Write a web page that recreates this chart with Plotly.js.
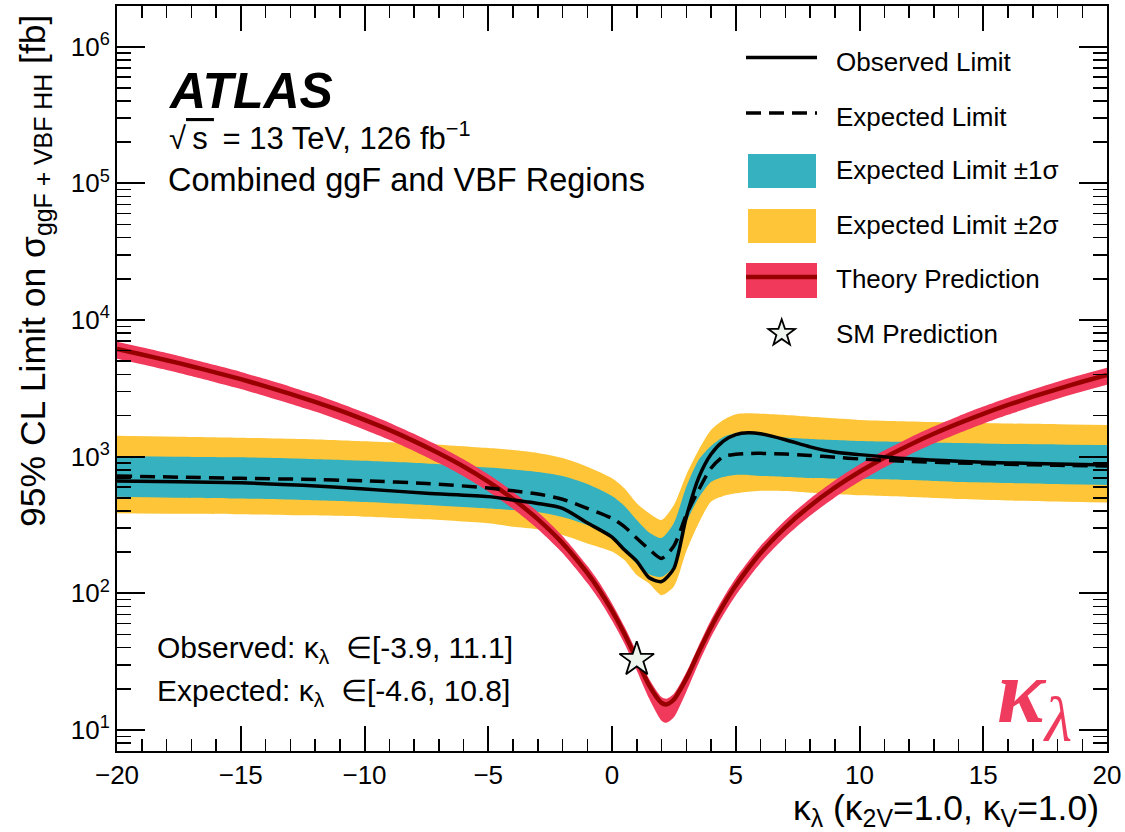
<!DOCTYPE html>
<html>
<head>
<meta charset="utf-8">
<script src="https://cdn.plot.ly/plotly-3.0.1.min.js"></script>
<style>html,body{margin:0;padding:0;background:#fff;}#chart{width:1125px;height:832px;}</style>
</head>
<body>
<div id="chart"></div>
<script>
// ---------------- data ----------------
const kLimit = [-20, -17.5, -15, -12.5, -10, -7.5, -5, -4, -3, -2, -1, 0, 0.5, 1, 1.5, 2, 2.5, 3, 3.5, 4, 4.5, 5, 5.5, 6, 7, 8, 9, 10, 12, 14, 16, 18, 20];
const observedLimit = [664, 655, 645, 617, 580, 540, 510, 482, 455, 419, 328, 258, 208, 172, 130, 122, 152, 360, 700, 1040, 1300, 1450, 1495, 1470, 1330, 1180, 1080, 1035, 965, 925, 900, 885, 869];
const expectedLimit = [723, 708, 694, 683, 665, 637, 590, 563, 533, 488, 419, 354, 308, 253, 210, 180, 222, 374, 570, 822, 1000, 1040, 1055, 1057, 1045, 1020, 990, 962, 922, 900, 880, 865, 855];
const sigma1Up = [1012, 1000, 989, 966, 934, 893, 833, 806, 773, 722, 631, 515, 436, 344, 279, 254, 327, 600, 946, 1197, 1393, 1483, 1490, 1440, 1380, 1346, 1324, 1302, 1280, 1259, 1238, 1228, 1217];
const sigma1Down = [509, 501, 494, 482, 466, 443, 418, 407, 394, 362, 316, 258, 208, 164, 138, 132, 158, 327, 499, 653, 710, 735, 735, 722, 710, 698, 692, 687, 675, 653, 642, 631, 621];
const sigma2Up = [1422, 1400, 1376, 1346, 1295, 1238, 1157, 1119, 1064, 977, 845, 695, 587, 456, 385, 344, 443, 735, 1119, 1567, 1854, 2042, 2075, 2061, 2018, 1959, 1908, 1854, 1808, 1778, 1749, 1726, 1706];
const sigma2Down = [385, 382, 379, 372, 364, 348, 325, 307, 294, 267, 232, 202, 175, 136, 118, 97, 112, 202, 325, 468, 515, 539, 554, 563, 561, 545, 533, 521, 507, 490, 478, 470, 462];

const kTheory = [-20, -19, -18, -17, -16, -15, -14, -13, -12, -11, -10, -9, -8, -7, -6, -5, -4, -3, -2, -1, -0.5, 0, 0.5, 1, 1.5, 2, 2.2, 2.5, 3, 3.5, 4, 4.5, 5, 6, 7, 8, 9, 10, 11, 12, 13, 14, 15, 16, 17, 18, 19, 20];
const theoryCentral = [6130, 5590, 5080, 4590, 4120, 3690, 3270, 2880, 2520, 2180, 1860, 1570, 1300, 1060, 848, 657, 490, 349, 233, 141, 105, 74.6, 50.6, 32.8, 21.2, 15.8, 15.4, 16.7, 23.7, 37.0, 56.5, 82.2, 114, 197, 304, 436, 593, 775, 982, 1214, 1470, 1751, 2058, 2389, 2745, 3125, 3531, 3962];
const theoryUp = [6927, 6317, 5740, 5187, 4656, 4170, 3695, 3254, 2848, 2463, 2102, 1774, 1469, 1198, 958, 742, 554, 394, 263, 159, 119, 84.3, 57.2, 37.1, 23.6, 17.4, 16.9, 18.4, 26.3, 41.4, 63.8, 92.9, 129, 222, 343, 493, 670, 876, 1110, 1371, 1661, 1979, 2325, 2699, 3101, 3532, 3990, 4477];
const theoryDown = [5195, 4737, 4305, 3890, 3492, 3127, 2771, 2441, 2136, 1847, 1576, 1331, 1102, 898, 719, 557, 415, 296, 197, 119, 89, 63.2, 42.9, 27.3, 17.0, 11.7, 11.3, 12.4, 19.0, 30.8, 47.9, 69.7, 96.6, 167, 258, 369, 503, 657, 832, 1028, 1246, 1484, 1744, 2024, 2326, 2649, 2992, 3357];

const smKappa = [1];
const smXsec = [32.8];

const xTickVals = [-20, -15, -10, -5, 0, 5, 10, 15, 20];
const yTickVals = [10, 100, 1000, 10000, 100000, 1000000];
const yTickText = ['10<sup>1</sup>', '10<sup>2</sup>', '10<sup>3</sup>', '10<sup>4</sup>', '10<sup>5</sup>', '10<sup>6</sup>'];

const legendLabels = ['Observed Limit', 'Expected Limit', 'Expected Limit \u00b11\u03c3', 'Expected Limit \u00b12\u03c3', 'Theory Prediction', 'SM Prediction'];

// ---------------- styles ----------------
const FONT = 'Liberation Sans, Arial, Helvetica, sans-serif';
const C_TEAL = '#36b1bf';
const C_YEL = '#fdc537';
const C_RED = '#f0395b';
const C_DRED = '#980000';
const DASH = '15px,8px';

const L = 117, R = 1107, T = 6, B = 751, W = 1125, H = 832;
const px = x => (x - L) / (R - L);
const py = y => (B - y) / (B - T);

const yMinor = [];
for (let d = 0; d <= 6; d++) for (let m = 2; m <= 9; m++) yMinor.push(m * Math.pow(10, d));

const sp = {shape: 'spline', smoothing: 0.7};
const traces = [
  {x: kLimit, y: sigma2Down, mode: 'lines', line: Object.assign({width: 0, color: C_YEL}, sp), hoverinfo: 'skip', showlegend: false},
  {x: kLimit, y: sigma2Up, mode: 'lines', fill: 'tonexty', fillcolor: C_YEL, line: Object.assign({width: 0, color: C_YEL}, sp), hoverinfo: 'skip', showlegend: false},
  {x: kLimit, y: sigma1Down, mode: 'lines', line: Object.assign({width: 0, color: C_TEAL}, sp), hoverinfo: 'skip', showlegend: false},
  {x: kLimit, y: sigma1Up, mode: 'lines', fill: 'tonexty', fillcolor: C_TEAL, line: Object.assign({width: 0, color: C_TEAL}, sp), hoverinfo: 'skip', showlegend: false},
  {x: kTheory, y: theoryDown, mode: 'lines', line: Object.assign({width: 0, color: C_RED}, sp), hoverinfo: 'skip', showlegend: false},
  {x: kTheory, y: theoryUp, mode: 'lines', fill: 'tonexty', fillcolor: C_RED, line: Object.assign({width: 0, color: C_RED}, sp), hoverinfo: 'skip', showlegend: false},
  {x: kTheory, y: theoryCentral, mode: 'lines', line: Object.assign({width: 4.5, color: C_DRED}, sp), showlegend: false},
  {x: kLimit, y: expectedLimit, mode: 'lines', line: Object.assign({width: 3.5, color: 'black', dash: DASH}, sp), showlegend: false},
  {x: kLimit, y: observedLimit, mode: 'lines', line: Object.assign({width: 3.5, color: 'black'}, sp), showlegend: false},
  {x: smKappa, y: smXsec, mode: 'markers', marker: {symbol: 'star', size: 26, color: '#eef5ef', line: {color: 'black', width: 1.8}}, showlegend: false}
];

// legend drawn by hand (paper coords)
const LX0 = 746, LX1 = 817;
const shapes = [
  {type: 'line', xref: 'paper', yref: 'paper', x0: px(LX0), x1: px(LX1), y0: py(57.5), y1: py(57.5), line: {color: 'black', width: 3.5}},
  {type: 'line', xref: 'paper', yref: 'paper', x0: px(LX0), x1: px(LX1), y0: py(113), y1: py(113), line: {color: 'black', width: 3.5, dash: DASH}},
  {type: 'rect', xref: 'paper', yref: 'paper', x0: px(748), x1: px(816), y0: py(154), y1: py(188), fillcolor: C_TEAL, line: {width: 0}},
  {type: 'rect', xref: 'paper', yref: 'paper', x0: px(748), x1: px(816), y0: py(209), y1: py(243), fillcolor: C_YEL, line: {width: 0}},
  {type: 'rect', xref: 'paper', yref: 'paper', x0: px(746), x1: px(817), y0: py(263), y1: py(298), fillcolor: C_RED, line: {width: 0}},
  {type: 'line', xref: 'paper', yref: 'paper', x0: px(746), x1: px(817), y0: py(277), y1: py(277), line: {color: C_DRED, width: 4.5}}
];
// legend star glyph
(function () {
  const cx = 781.7, cy = 333.3, Ro = 14, Ri = 5.6;
  let d = '';
  for (let i = 0; i < 10; i++) {
    const a = -Math.PI / 2 + i * Math.PI / 5;
    const r = i % 2 === 0 ? Ro : Ri;
    d += (i === 0 ? 'M' : 'L') + px(cx + r * Math.cos(a)) + ',' + py(cy + r * Math.sin(a));
  }
  d += 'Z';
  shapes.push({type: 'path', xref: 'paper', yref: 'paper', path: d, fillcolor: '#eef5ef', line: {color: 'black', width: 1.8}});
})();

const legendY = [61.7, 117, 170, 225, 279.5, 333.5];
const annotations = legendY.map((y, i) => ({
  xref: 'paper', yref: 'paper', x: px(834), y: py(y), xanchor: 'left', yanchor: 'middle',
  text: legendLabels[i], showarrow: false, font: {family: FONT, size: 26, color: 'black'}
}));

annotations.push(
  {xref: 'paper', yref: 'paper', x: px(166), y: py(91), xanchor: 'left', yanchor: 'middle', showarrow: false,
   text: '<b><i>ATLAS</i></b>', font: {family: FONT, size: 50, color: 'black'}},
  {xref: 'paper', yref: 'paper', x: px(167), y: py(136), xanchor: 'left', yanchor: 'middle', showarrow: false,
   text: '\u221a<span style="text-decoration:overline">\u2009s\u2009</span> = 13 TeV, 126 fb<sup>\u22121</sup>', font: {family: FONT, size: 31, color: 'black'}},
  {xref: 'paper', yref: 'paper', x: px(166), y: py(180), xanchor: 'left', yanchor: 'middle', showarrow: false,
   text: 'Combined ggF and VBF Regions', font: {family: FONT, size: 32.5, color: 'black'}},
  {xref: 'paper', yref: 'paper', x: px(155), y: py(649), xanchor: 'left', yanchor: 'middle', showarrow: false,
   text: 'Observed: \u03ba<sub>\u03bb</sub>\u00a0 \u2208[-3.9, 11.1]', font: {family: FONT, size: 30, color: 'black'}},
  {xref: 'paper', yref: 'paper', x: px(155), y: py(692), xanchor: 'left', yanchor: 'middle', showarrow: false,
   text: 'Expected: \u03ba<sub>\u03bb</sub>\u00a0 \u2208[-4.6, 10.8]', font: {family: FONT, size: 30, color: 'black'}},
  {xref: 'paper', yref: 'paper', x: px(1034), y: py(698), xanchor: 'center', yanchor: 'middle', showarrow: false,
   text: '<b><i>\u03ba</i></b><sub><i>\u03bb</i></sub>', font: {family: 'Liberation Serif, Times New Roman, serif', size: 90, color: '#ef3b5d'}},
  {xref: 'paper', yref: 'paper', x: px(1101), y: py(834), xanchor: 'right', yanchor: 'bottom', showarrow: false,
   text: '\u03ba<sub>\u03bb</sub> (\u03ba<sub>2V</sub>=1.0, \u03ba<sub>V</sub>=1.0)', font: {family: FONT, size: 35.5, color: 'black'}},
  {xref: 'paper', yref: 'paper', x: px(35), y: py(271), xanchor: 'center', yanchor: 'middle', showarrow: false, textangle: -90,
   text: '95% CL Limit on \u03c3<sub>ggF + VBF HH</sub> [fb]', font: {family: FONT, size: 35.5, color: 'black'}}
);

const layout = {
  width: W, height: H,
  margin: {l: L, r: W - R, t: T, b: H - B, pad: 0},
  paper_bgcolor: 'white', plot_bgcolor: 'white',
  showlegend: false, hovermode: false,
  font: {family: FONT, color: 'black'},
  xaxis: {
    range: [-20, 20], tickmode: 'array', tickvals: xTickVals,
    ticks: 'inside', ticklen: 25, tickwidth: 2, tickcolor: 'black',
    showline: true, linecolor: 'black', linewidth: 2, mirror: 'ticks',
    showgrid: false, zeroline: false,
    tickfont: {family: FONT, size: 26, color: 'black'},
    minor: {dtick: 1, tick0: 0, ticks: 'inside', ticklen: 12, tickwidth: 1.5, tickcolor: 'black', showgrid: false}
  },
  yaxis: {
    type: 'log', range: [0.8463, 6.2975], tickmode: 'array', tickvals: yTickVals, ticktext: yTickText,
    ticks: 'inside', ticklen: 28, tickwidth: 2, tickcolor: 'black',
    showline: true, linecolor: 'black', linewidth: 2, mirror: 'ticks',
    showgrid: false, zeroline: false,
    tickfont: {family: FONT, size: 26, color: 'black'},
    minor: {tickmode: 'array', tickvals: yMinor, ticks: 'inside', ticklen: 14, tickwidth: 1.5, tickcolor: 'black', showgrid: false}
  },
  shapes: shapes,
  annotations: annotations
};

Plotly.newPlot('chart', traces, layout, {staticPlot: true, displayModeBar: false});
</script>
</body>
</html>
